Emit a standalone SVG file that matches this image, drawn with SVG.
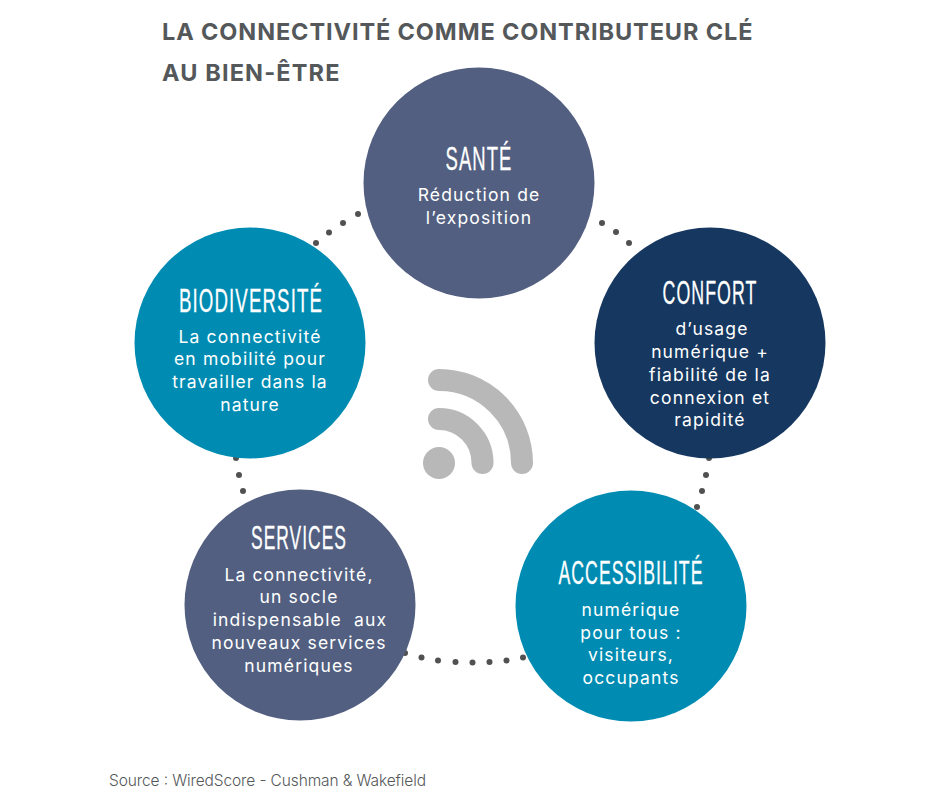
<svg xmlns="http://www.w3.org/2000/svg" width="946" height="804" viewBox="0 0 946 804">
<style>
text{font-family:"Inter","Liberation Sans",sans-serif;text-anchor:middle}
.title{font-size:23.500px;font-weight:700;fill:#54585a;text-anchor:start;letter-spacing:1.600px}
.h{font-family:"Liberation Sans",sans-serif;font-size:34px;fill:#fff;stroke:#fff;stroke-width:.3px;letter-spacing:2px}
.b{font-size:17.500px;font-weight:400;fill:#fff;letter-spacing:1.150px}
.src{font-size:15.500px;font-weight:300;fill:#54585a;text-anchor:start}
.slate{fill:#525f80}.navy{fill:#16375f}.teal{fill:#008cb2}
.dot{fill:#515151}
.wifi{fill:none;stroke:#b8b8b8;stroke-width:22;stroke-linecap:round}
</style>
<rect width="946" height="804" fill="#fff"/>
<text class="title" x="162" y="40" textLength="592">LA CONNECTIVITÉ COMME CONTRIBUTEUR CLÉ</text>
<text class="title" x="162" y="81" textLength="179">AU BIEN-ÊTRE</text>
<g id="connectors">
<g class="dot">
<circle cx="358" cy="214" r="3"/><circle cx="343" cy="223" r="3"/><circle cx="329" cy="232.500" r="3"/><circle cx="316" cy="243" r="3"/>
<circle cx="602" cy="223" r="3"/><circle cx="616" cy="232" r="3"/><circle cx="629" cy="243" r="3"/>
<circle cx="236" cy="458" r="3"/><circle cx="239" cy="475" r="3"/><circle cx="243" cy="491" r="3"/>
<circle cx="709" cy="458" r="3"/><circle cx="706" cy="475" r="3"/><circle cx="702" cy="491" r="3"/><circle cx="697" cy="507" r="3"/>
<circle cx="405" cy="653" r="3"/><circle cx="421.500" cy="657.500" r="3"/><circle cx="438" cy="660.500" r="3"/><circle cx="455.500" cy="662" r="3"/><circle cx="472.500" cy="662.500" r="3"/><circle cx="489.500" cy="662" r="3"/><circle cx="506.500" cy="660.500" r="3"/><circle cx="523" cy="657.500" r="3"/>
</g>
</g>
<g id="sante">
<circle class="slate" cx="479" cy="183" r="115.500"/>
<text class="h" x="479" y="170" textLength="67" lengthAdjust="spacingAndGlyphs">SANTÉ</text>
<text class="b" x="479" y="201">Réduction de</text>
<text class="b" x="479" y="224">l’exposition</text>
</g>
<g id="confort">
<circle class="navy" cx="710" cy="343" r="115.500"/>
<text class="h" x="710" y="304" textLength="95" lengthAdjust="spacingAndGlyphs">CONFORT</text>
<text class="b" x="712" y="335">d’usage</text>
<text class="b" x="710" y="358">numérique +</text>
<text class="b" x="710" y="381">fiabilité de la</text>
<text class="b" x="710" y="404">connexion et</text>
<text class="b" x="710" y="426">rapidité</text>
</g>
<g id="biodiversite">
<circle class="teal" cx="250" cy="343" r="115.500"/>
<text class="h" x="251" y="312" textLength="144" lengthAdjust="spacingAndGlyphs">BIODIVERSITÉ</text>
<text class="b" x="250" y="343">La connectivité</text>
<text class="b" x="250" y="365">en mobilité pour</text>
<text class="b" x="250" y="388">travailler dans la</text>
<text class="b" x="250" y="411">nature</text>
</g>
<g id="services">
<circle class="slate" cx="300" cy="605" r="115.500"/>
<text class="h" x="299" y="549" textLength="96" lengthAdjust="spacingAndGlyphs">SERVICES</text>
<text class="b" x="299" y="581">La connectivité,</text>
<text class="b" x="299" y="603">un socle</text>
<text class="b" x="300" y="626" xml:space="preserve">indispensable  aux</text>
<text class="b" x="299" y="649">nouveaux services</text>
<text class="b" x="299" y="672">numériques</text>
</g>
<g id="accessibilite">
<circle class="teal" cx="631" cy="606" r="115.500"/>
<text class="h" x="631" y="584" textLength="145" lengthAdjust="spacingAndGlyphs">ACCESSIBILITÉ</text>
<text class="b" x="631" y="616">numérique</text>
<text class="b" x="631" y="639">pour tous :</text>
<text class="b" x="631" y="661">visiteurs,</text>
<text class="b" x="631" y="684">occupants</text>
</g>
<g id="wifi">
<circle cx="439" cy="463" r="16" fill="#b8b8b8"/>
<path class="wifi" d="M439 380A83 83 0 0 1 522 463"/>
<path class="wifi" d="M439 419A43.500 44 0 0 1 482.500 463"/>
</g>
<text class="src" x="109" y="786" textLength="317">Source : WiredScore - Cushman &amp; Wakefield</text>
</svg>
